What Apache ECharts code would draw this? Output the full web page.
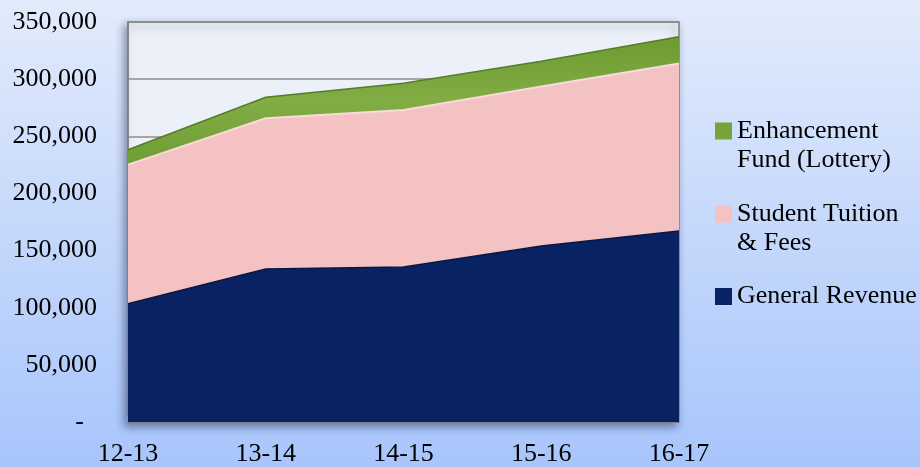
<!DOCTYPE html>
<html>
<head>
<meta charset="utf-8">
<script src="https://cdn.jsdelivr.net/npm/echarts@6/dist/echarts.min.js"></script>
<style>
html,body{margin:0;padding:0;}
#chart{width:920px;height:467px;}
</style>
</head>
<body>
<div id="chart"></div>
<script>
var categories = ['12-13', '13-14', '14-15', '15-16', '16-17'];
var generalRevenue = [103500, 133900, 135700, 154000, 167200];
var tuitionFees = [121700, 131900, 137300, 139600, 146500];
var lotteryFund = [13000, 18300, 23500, 22000, 23300];
var yTicks = [0, 50000, 100000, 150000, 200000, 250000, 300000, 350000];

var FONT = '"Liberation Serif", "Times New Roman", serif';
var chart = echarts.init(document.getElementById('chart'));

function fmt(v) {
  if (v === 0) return '-  ';
  return v.toString().replace(/\B(?=(\d{3})+(?!\d))/g, ',');
}

var legendText = {fontFamily: FONT, fontSize: 26, lineHeight: 29, color: '#000'};

chart.setOption({
  animation: false,
  backgroundColor: {
    type: 'linear', x: 0, y: 0, x2: 0, y2: 1,
    colorStops: [{offset: 0, color: '#e2ebfb'}, {offset: 1, color: '#a8c5fb'}]
  },
  grid: {
    left: 128, right: 241, top: 22, bottom: 39,
    show: true,
    backgroundColor: '#ecf1f9',
    borderColor: '#7f7f7f',
    borderWidth: 1.5,
    shadowBlur: 8,
    shadowColor: 'rgba(20,30,60,0.45)',
    shadowOffsetX: -3,
    shadowOffsetY: 4
  },
  legend: [
    {
      data: [{name: 'Enhancement Fund (Lottery)', icon: 'path://M0,0L17,0L17,17L0,17Z M0,47L0.05,47L0.05,46.95Z'}],
      left: 715, top: 117, padding: 0, itemWidth: 17, itemHeight: 47, itemGap: 0,
      formatter: function () { return 'Enhancement\nFund (Lottery)'; },
      textStyle: legendText
    },
    {
      data: [{name: 'Student Tuition & Fees', icon: 'path://M0,0L17,0L17,17L0,17Z M0,47L0.05,47L0.05,46.95Z'}],
      left: 715, top: 200, padding: 0, itemWidth: 17, itemHeight: 47, itemGap: 0,
      formatter: function () { return 'Student Tuition\n& Fees'; },
      textStyle: legendText
    },
    {
      data: [{name: 'General Revenue', icon: 'rect'}],
      left: 715, top: 282, padding: 0, itemWidth: 17, itemHeight: 17, itemGap: 0,
      textStyle: legendText
    }
  ],
  xAxis: {
    type: 'category',
    data: categories,
    boundaryGap: false,
    axisLine: {show: true, lineStyle: {color: '#808080', width: 1.5}},
    axisTick: {show: true, inside: true, length: 6, lineStyle: {color: '#9a9a9a', width: 1.5}},
    axisLabel: {fontFamily: FONT, fontSize: 26, color: '#000', margin: 19},
    splitLine: {show: false}
  },
  yAxis: {
    type: 'value',
    min: 0, max: 350000, interval: 50000,
    axisLine: {show: true, lineStyle: {color: '#808080', width: 1.5}},
    axisTick: {show: false},
    axisLabel: {
      fontFamily: FONT, fontSize: 26, color: '#000', margin: 31,
      customValues: yTicks,
      formatter: fmt
    },
    splitLine: {show: true, lineStyle: {color: '#8c8c8c', width: 1.5}}
  },
  series: [
    {
      name: 'General Revenue', type: 'line', stack: 'total', data: generalRevenue,
      symbol: 'none', color: '#082262',
      lineStyle: {color: '#051846', width: 1.5},
      areaStyle: {color: '#082262', opacity: 1}
    },
    {
      name: 'Student Tuition & Fees', type: 'line', stack: 'total', data: tuitionFees,
      symbol: 'none', color: '#f4c2c2',
      lineStyle: {color: '#f9dada', width: 2},
      areaStyle: {color: '#f4c2c2', opacity: 1}
    },
    {
      name: 'Enhancement Fund (Lottery)', type: 'line', stack: 'total', data: lotteryFund,
      symbol: 'none', color: '#76a33a',
      lineStyle: {color: '#557d28', width: 1.5},
      areaStyle: {
        opacity: 1,
        color: {type: 'linear', x: 0, y: 0, x2: 0, y2: 1,
          colorStops: [{offset: 0, color: '#6e9a33'}, {offset: 0.5, color: '#82ad44'}, {offset: 1, color: '#6f9c35'}]}
      }
    }
  ]
});
</script>
</body>
</html>
